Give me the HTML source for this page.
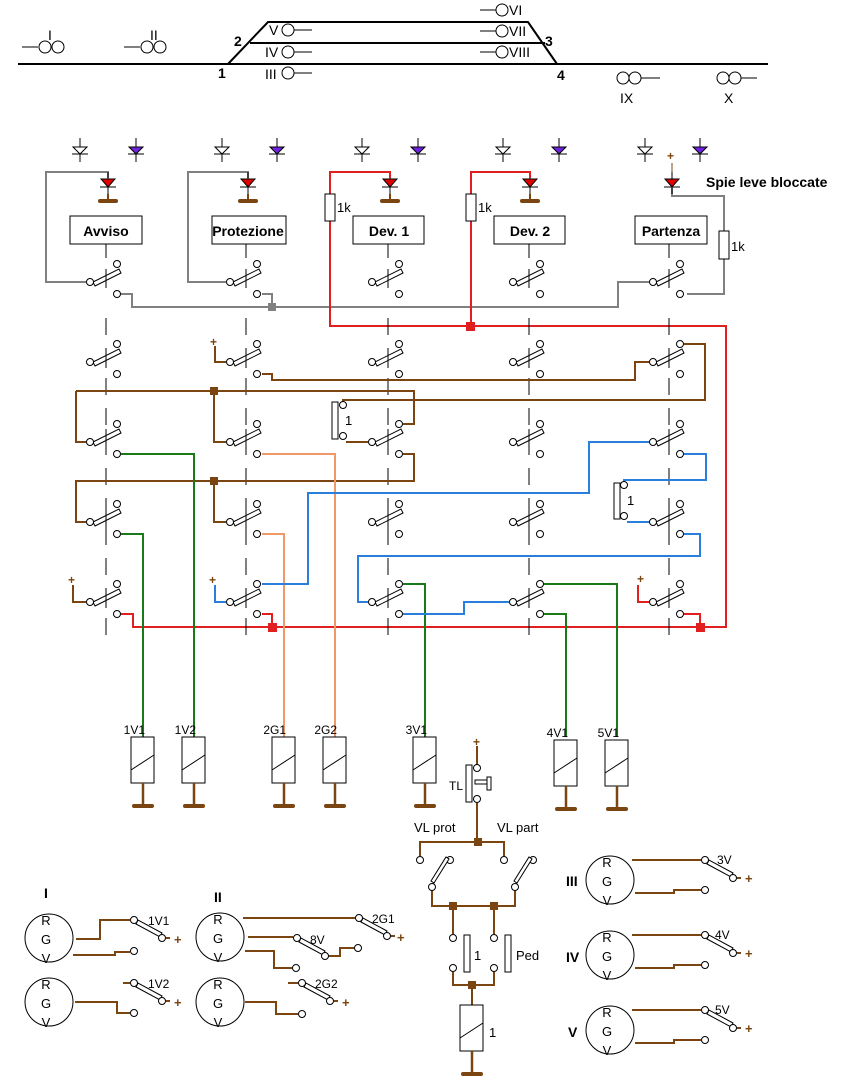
<!DOCTYPE html>
<html><head><meta charset="utf-8"><style>
html,body{margin:0;padding:0;background:#fff}
svg{display:block;font-family:"Liberation Sans",sans-serif}
</style></head><body>
<svg width="857" height="1087" viewBox="0 0 857 1087" xmlns="http://www.w3.org/2000/svg">
<defs>
<g id="sw" fill="#fff" stroke="#000" stroke-width="1">
<polygon points="5,4 31,-9 29,-13 3,0"/>
<circle cx="0" cy="0" r="3.5"/><circle cx="27" cy="-18" r="3.5"/><circle cx="27" cy="12" r="3.5"/>
<line x1="16" y1="-13" x2="16" y2="6"/>
</g>
<g id="led" stroke="#000" stroke-width="1">
<line x1="0" y1="-8" x2="0" y2="14"/><polygon points="-7,-1 7,-1 0,7" fill="#e00000"/><line x1="-8" y1="7" x2="8" y2="7"/>
<line x1="0" y1="14" x2="0" y2="20" stroke="#7a4510" stroke-width="2"/>
<line x1="-8" y1="21" x2="8" y2="21" stroke="#7a4510" stroke-width="4" stroke-linecap="round"/>
</g>
<g id="dw" stroke="#000" stroke-width="1"><line x1="0" y1="-10" x2="0" y2="14"/><polygon points="-7,-1 7,-1 0,6" fill="#fff"/><line x1="-8" y1="6" x2="8" y2="6"/></g>
<g id="dp" stroke="#000" stroke-width="1"><line x1="0" y1="-10" x2="0" y2="14"/><polygon points="-7,-1 7,-1 0,6" fill="#7020e0"/><line x1="-8" y1="6" x2="8" y2="6"/></g>
<g id="rel" stroke="#000" stroke-width="1"><rect x="-12" y="0" width="23" height="46" fill="#fff"/><line x1="-12" y1="33" x2="11" y2="18"/>
<line x1="0" y1="46" x2="0" y2="68" stroke="#7a4510" stroke-width="2.5"/><line x1="-9" y1="69" x2="9" y2="69" stroke="#7a4510" stroke-width="4" stroke-linecap="round"/></g>
<g id="sig" fill="none" stroke="#000" stroke-width="1"><circle cx="0" cy="0" r="24"/></g>
<g id="osw" fill="#fff" stroke="#000" stroke-width="1"><polygon points="2,4 26,17 28,13 4,0"/><circle cx="0" cy="0" r="3.5"/><circle cx="28" cy="18" r="3.5"/><line x1="32" y1="18" x2="36" y2="18" stroke="#7a4510" stroke-width="2"/></g>
</defs>

<g stroke="#000" stroke-width="2" fill="none">
<line x1="18" y1="64" x2="768" y2="64"/>
<polyline points="228,64 268,22 528,22 557,64"/>
<line x1="250" y1="43" x2="545" y2="43"/>
</g>
<g stroke="#000" stroke-width="1" fill="none">
<line x1="22" y1="47" x2="38" y2="47"/><circle cx="45" cy="47" r="6"/><circle cx="58" cy="47" r="6"/>
<line x1="124" y1="47" x2="140" y2="47"/><circle cx="147" cy="47" r="6"/><circle cx="160" cy="47" r="6"/>
<circle cx="288" cy="30" r="6"/><line x1="294" y1="30" x2="312" y2="30"/>
<circle cx="288" cy="52" r="6"/><line x1="294" y1="52" x2="312" y2="52"/>
<circle cx="288" cy="73" r="6"/><line x1="294" y1="73" x2="312" y2="73"/>
<line x1="480" y1="10" x2="496" y2="10"/><circle cx="502" cy="10" r="6"/>
<line x1="480" y1="31" x2="496" y2="31"/><circle cx="502" cy="31" r="6"/>
<line x1="480" y1="52" x2="496" y2="52"/><circle cx="502" cy="52" r="6"/>
<circle cx="623" cy="78" r="6"/><circle cx="635" cy="78" r="6"/><line x1="641" y1="78" x2="660" y2="78"/>
<circle cx="723" cy="78" r="6"/><circle cx="735" cy="78" r="6"/><line x1="741" y1="78" x2="757" y2="78"/>
</g>
<g font-size="14" fill="#000">
<text x="48" y="40">I</text><text x="150" y="40">II</text>
<text x="234" y="46" font-weight="bold">2</text><text x="218" y="78" font-weight="bold">1</text>
<text x="545" y="46" font-weight="bold">3</text><text x="557" y="80" font-weight="bold">4</text>
<text x="269" y="35">V</text><text x="265" y="57">IV</text><text x="265" y="79">III</text>
<text x="509" y="15">VI</text><text x="509" y="36">VII</text><text x="509" y="57">VIII</text>
<text x="620" y="103">IX</text><text x="724" y="103">X</text>
</g>

<use href="#dw" x="80" y="148"/><use href="#dp" x="136" y="148"/>
<use href="#dw" x="222" y="148"/><use href="#dp" x="277" y="148"/>
<use href="#dw" x="362" y="148"/><use href="#dp" x="418" y="148"/>
<use href="#dw" x="503" y="148"/><use href="#dp" x="559" y="148"/>
<use href="#dw" x="645" y="148"/><use href="#dp" x="700" y="148"/>
<text x="667" y="160" font-size="12" font-weight="bold" fill="#7a4510">+</text>
<line x1="672" y1="163" x2="672" y2="172" stroke="#7a4510"/>

<g stroke="#808080" stroke-width="2" fill="none">
<polyline points="86,282 46,282 46,172 108,172 108,178"/>
<polyline points="226,282 188,282 188,172 248,172 248,178"/>
<polyline points="121,294 132,294 132,307 618,307 618,282 649,282"/>
<polyline points="262,294 272,294 272,307"/>
<polyline points="672,188 672,196 724,196 724,294 687,294"/>
</g>
<rect x="268" y="303" width="8" height="8" fill="#808080"/>

<use href="#led" x="108" y="180"/><use href="#led" x="248" y="180"/>
<use href="#led" x="390" y="180"/><use href="#led" x="530" y="180"/>
<g stroke="#000"><line x1="672" y1="172" x2="672" y2="194"/><polygon points="665,179 679,179 672,187" fill="#e00000"/><line x1="664" y1="187" x2="680" y2="187"/></g>

<g stroke="#e02020" stroke-width="2" fill="none">
<polyline points="390,178 390,172 330,172 330,326 726,326 726,627 133,627 133,614 121,614"/>
<polyline points="530,178 530,172 471,172 471,326"/>
<polyline points="262,614 272,614 272,627"/>
<polyline points="684,614 700,614 700,627"/>
<polyline points="638,585 638,602 649,602"/>
</g>
<rect x="325" y="194" width="10" height="27" fill="#fff" stroke="#000"/>
<rect x="466" y="194" width="10" height="27" fill="#fff" stroke="#000"/>
<rect x="719" y="231" width="10" height="28" fill="#fff" stroke="#000"/>
<g font-size="13"><text x="337" y="212">1k</text><text x="478" y="212">1k</text><text x="731" y="251">1k</text></g>
<rect x="466" y="322" width="9" height="9" fill="#e02020"/>
<rect x="268" y="623" width="9" height="9" fill="#e02020"/>
<rect x="696" y="623" width="9" height="9" fill="#e02020"/>
<text x="637" y="583" font-size="12" font-weight="bold" fill="#7a4510">+</text>

<g fill="#fff" stroke="#000">
<rect x="70" y="216" width="72" height="28"/><rect x="212" y="216" width="74" height="28"/>
<rect x="353" y="216" width="71" height="28"/><rect x="494" y="216" width="71" height="28"/>
<rect x="635" y="216" width="72" height="28"/>
</g>
<g font-size="14" font-weight="bold" text-anchor="middle">
<text x="106" y="236">Avviso</text><text x="248" y="236">Protezione</text>
<text x="389" y="236">Dev. 1</text><text x="530" y="236">Dev. 2</text><text x="671" y="236">Partenza</text>
</g>
<text x="706" y="187" font-size="14" font-weight="bold">Spie leve bloccate</text>
<g stroke="#000">
<line x1="106" y1="244" x2="106" y2="258"/><line x1="246" y1="244" x2="246" y2="258"/>
<line x1="388" y1="244" x2="388" y2="258"/><line x1="529" y1="244" x2="529" y2="258"/><line x1="669" y1="244" x2="669" y2="258"/>
</g>
<g stroke="#000" stroke-dasharray="17,13">
<line x1="106" y1="318" x2="106" y2="640"/><line x1="246" y1="318" x2="246" y2="640"/>
<line x1="388" y1="318" x2="388" y2="640"/><line x1="529" y1="318" x2="529" y2="640"/><line x1="669" y1="318" x2="669" y2="640"/>
</g>

<g stroke="#7a4510" stroke-width="2" fill="none">
<polyline points="215,346 215,362 226,362"/>
<polyline points="262,374 272,374 272,380 635,380 635,362 649,362"/>
<polyline points="684,344 705,344 705,400 343,400 343,402"/>
<polyline points="76,391 414,391 414,424 403,424"/>
<polyline points="76,391 76,442 86,442"/>
<polyline points="214,391 214,442 226,442"/>
<polyline points="346,442 368,442"/>
<polyline points="403,454 414,454 414,481 76,481 76,522 86,522"/>
<polyline points="214,481 214,522 226,522"/>
<polyline points="73,585 73,602 86,602"/>
</g>
<rect x="210" y="387" width="8" height="8" fill="#7a4510"/>
<rect x="210" y="477" width="8" height="8" fill="#7a4510"/>
<g font-size="12" font-weight="bold" fill="#7a4510"><text x="210" y="346">+</text><text x="68" y="584">+</text><text x="209" y="584">+</text></g>
<rect x="332" y="402" width="6" height="37" fill="#fff" stroke="#000"/>
<circle cx="343" cy="405" r="3.5" fill="#fff" stroke="#000"/><circle cx="343" cy="436" r="3.5" fill="#fff" stroke="#000"/>
<text x="345" y="425" font-size="13">1</text>

<g stroke="#1a7a1a" stroke-width="2" fill="none">
<polyline points="121,454 194,454 194,737"/>
<polyline points="121,534 143,534 143,737"/>
<polyline points="403,584 425,584 425,737"/>
<polyline points="544,584 617,584 617,737"/>
<polyline points="544,614 566,614 566,737"/>
</g>
<g stroke="#f09868" stroke-width="2" fill="none">
<polyline points="262,454 335,454 335,737"/>
<polyline points="262,534 284,534 284,737"/>
</g>
<g stroke="#2a7fdc" stroke-width="2" fill="none">
<polyline points="215,585 215,602 226,602"/>
<polyline points="262,584 308,584 308,493 589,493 589,442 649,442"/>
<polyline points="684,454 706,454 706,480 624,480 624,482"/>
<polyline points="627,522 649,522"/>
<polyline points="684,534 700,534 700,556 358,556 358,602 368,602"/>
<polyline points="403,614 464,614 464,602 509,602"/>
</g>
<rect x="614" y="483" width="6" height="36" fill="#fff" stroke="#000"/>
<circle cx="624" cy="485" r="3.5" fill="#fff" stroke="#000"/><circle cx="624" cy="516" r="3.5" fill="#fff" stroke="#000"/>
<text x="627" y="505" font-size="13">1</text>

<use href="#sw" x="90" y="282"/><use href="#sw" x="230" y="282"/><use href="#sw" x="372" y="282"/><use href="#sw" x="513" y="282"/><use href="#sw" x="653" y="282"/>
<use href="#sw" x="90" y="362"/><use href="#sw" x="230" y="362"/><use href="#sw" x="372" y="362"/><use href="#sw" x="513" y="362"/><use href="#sw" x="653" y="362"/>
<use href="#sw" x="90" y="442"/><use href="#sw" x="230" y="442"/><use href="#sw" x="372" y="442"/><use href="#sw" x="513" y="442"/><use href="#sw" x="653" y="442"/>
<use href="#sw" x="90" y="522"/><use href="#sw" x="230" y="522"/><use href="#sw" x="372" y="522"/><use href="#sw" x="513" y="522"/><use href="#sw" x="653" y="522"/>
<use href="#sw" x="90" y="602"/><use href="#sw" x="230" y="602"/><use href="#sw" x="372" y="602"/><use href="#sw" x="513" y="602"/><use href="#sw" x="653" y="602"/>

<use href="#rel" x="143" y="737"/><use href="#rel" x="194" y="737"/><use href="#rel" x="284" y="737"/><use href="#rel" x="335" y="737"/>
<use href="#rel" x="425" y="737"/><use href="#rel" x="566" y="740"/><use href="#rel" x="617" y="740"/>
<g font-size="12" text-anchor="end"><text x="145" y="734">1V1</text><text x="196" y="734">1V2</text><text x="286" y="734">2G1</text><text x="337" y="734">2G2</text><text x="427" y="734">3V1</text><text x="568" y="737">4V1</text><text x="619" y="737">5V1</text></g>

<g stroke="#7a4510" stroke-width="2" fill="none">
<line x1="477" y1="746" x2="477" y2="765"/>
<polyline points="477,803 477,842"/>
<polyline points="420,856 420,842 504,842 504,856"/>
<polyline points="432,891 432,906 515,906 515,891"/>
<polyline points="453,906 453,934"/><polyline points="494,906 494,934"/>
<polyline points="453,972 453,985 494,985 494,972"/>
<line x1="472" y1="985" x2="472" y2="1005"/>
</g>
<text x="473" y="746" font-size="12" font-weight="bold" fill="#7a4510">+</text>
<g fill="#fff" stroke="#000">
<rect x="466" y="765" width="6" height="37"/>
<circle cx="477" cy="768" r="3.5"/><circle cx="477" cy="799" r="3.5"/>
<rect x="475" y="780" width="12" height="4"/><rect x="487" y="777" width="4" height="13"/>
<circle cx="420" cy="860" r="3.5"/><circle cx="450" cy="860" r="3.5"/><circle cx="432" cy="887" r="3.5"/>
<polygon points="434,883 449,859 446,857 431,881"/>
<circle cx="504" cy="860" r="3.5"/><circle cx="533" cy="860" r="3.5"/><circle cx="515" cy="887" r="3.5"/>
<polygon points="517,883 532,859 529,857 514,881"/>
<circle cx="453" cy="938" r="3.5"/><circle cx="453" cy="968" r="3.5"/><rect x="464" y="935" width="6" height="37"/>
<circle cx="494" cy="938" r="3.5"/><circle cx="494" cy="968" r="3.5"/><rect x="505" y="935" width="6" height="37"/>
</g>
<rect x="474" y="838" width="8" height="8" fill="#7a4510"/>
<rect x="449" y="902" width="8" height="8" fill="#7a4510"/><rect x="490" y="902" width="8" height="8" fill="#7a4510"/>
<rect x="468" y="981" width="8" height="8" fill="#7a4510"/>
<use href="#rel" x="472" y="1005"/>
<g font-size="13"><text x="449" y="790" font-size="12">TL</text><text x="414" y="832">VL prot</text><text x="497" y="832">VL part</text>
<text x="474" y="960">1</text><text x="516" y="960">Ped</text><text x="489" y="1037">1</text></g>

<use href="#sig" x="49" y="938"/><use href="#sig" x="49" y="1002"/><use href="#sig" x="220" y="937"/><use href="#sig" x="220" y="1002"/>
<use href="#sig" x="610" y="880"/><use href="#sig" x="610" y="955"/><use href="#sig" x="610" y="1030"/>
<g font-size="13" text-anchor="middle">
<text x="46" y="925">R</text><text x="46" y="944">G</text><text x="46" y="963">V</text>
<text x="46" y="989">R</text><text x="46" y="1008">G</text><text x="46" y="1027">V</text>
<text x="218" y="924">R</text><text x="218" y="943">G</text><text x="218" y="962">V</text>
<text x="218" y="989">R</text><text x="218" y="1008">G</text><text x="218" y="1027">V</text>
<text x="607" y="867">R</text><text x="607" y="886">G</text><text x="607" y="905">V</text>
<text x="607" y="942">R</text><text x="607" y="961">G</text><text x="607" y="980">V</text>
<text x="607" y="1017">R</text><text x="607" y="1036">G</text><text x="607" y="1055">V</text>
</g>
<g font-size="14" font-weight="bold"><text x="44" y="898">I</text><text x="214" y="902">II</text>
<text x="566" y="886">III</text><text x="566" y="962">IV</text><text x="568" y="1037">V</text></g>

<g stroke="#7a4510" stroke-width="2" fill="none">
<polyline points="76,939 100,939 100,920 130,920"/>
<polyline points="73,955 115,955 115,952 130,952"/>
<polyline points="75,1002 117,1002 117,1013 130,1013"/>
<line x1="123" y1="983" x2="130" y2="983"/>
<polyline points="243,918 355,918"/>
<polyline points="248,937 293,937"/>
<polyline points="328,956 340,956 340,948 354,948"/>
<polyline points="245,951 274,951 274,968 292,968"/>
<polyline points="245,1002 276,1002 276,1014 298,1014"/>
<line x1="288" y1="983" x2="298" y2="983"/>
<polyline points="632,860 701,860"/><polyline points="635,893 674,893 674,890 701,890"/>
<polyline points="632,935 701,935"/><polyline points="635,968 674,968 674,965 701,965"/>
<polyline points="632,1010 701,1010"/><polyline points="635,1043 674,1043 674,1040 701,1040"/>
</g>
<g fill="#fff" stroke="#000">
<circle cx="134" cy="951" r="3.5"/><circle cx="134" cy="1013" r="3.5"/><circle cx="296" cy="968" r="3.5"/>
<circle cx="358" cy="948" r="3.5"/><circle cx="302" cy="1014" r="3.5"/>
<circle cx="705" cy="890" r="3.5"/><circle cx="705" cy="965" r="3.5"/><circle cx="705" cy="1040" r="3.5"/>
</g>
<use href="#osw" x="134" y="920"/><use href="#osw" x="134" y="983"/>
<use href="#osw" x="359" y="918"/><use href="#osw" x="297" y="938"/><use href="#osw" x="302" y="983"/>
<use href="#osw" x="705" y="860"/><use href="#osw" x="705" y="935"/><use href="#osw" x="705" y="1010"/>
<g font-size="12"><text x="148" y="925">1V1</text><text x="148" y="988">1V2</text><text x="372" y="923">2G1</text><text x="310" y="944">8V</text><text x="315" y="988">2G2</text>
<text x="717" y="864">3V</text><text x="715" y="939">4V</text><text x="715" y="1014">5V</text></g>
<g font-size="13" font-weight="bold" fill="#7a4510">
<text x="174" y="944">+</text><text x="174" y="1007">+</text><text x="397" y="942">+</text><text x="342" y="1007">+</text>
<text x="745" y="883">+</text><text x="745" y="958">+</text><text x="745" y="1033">+</text></g>
</svg>
</body></html>
